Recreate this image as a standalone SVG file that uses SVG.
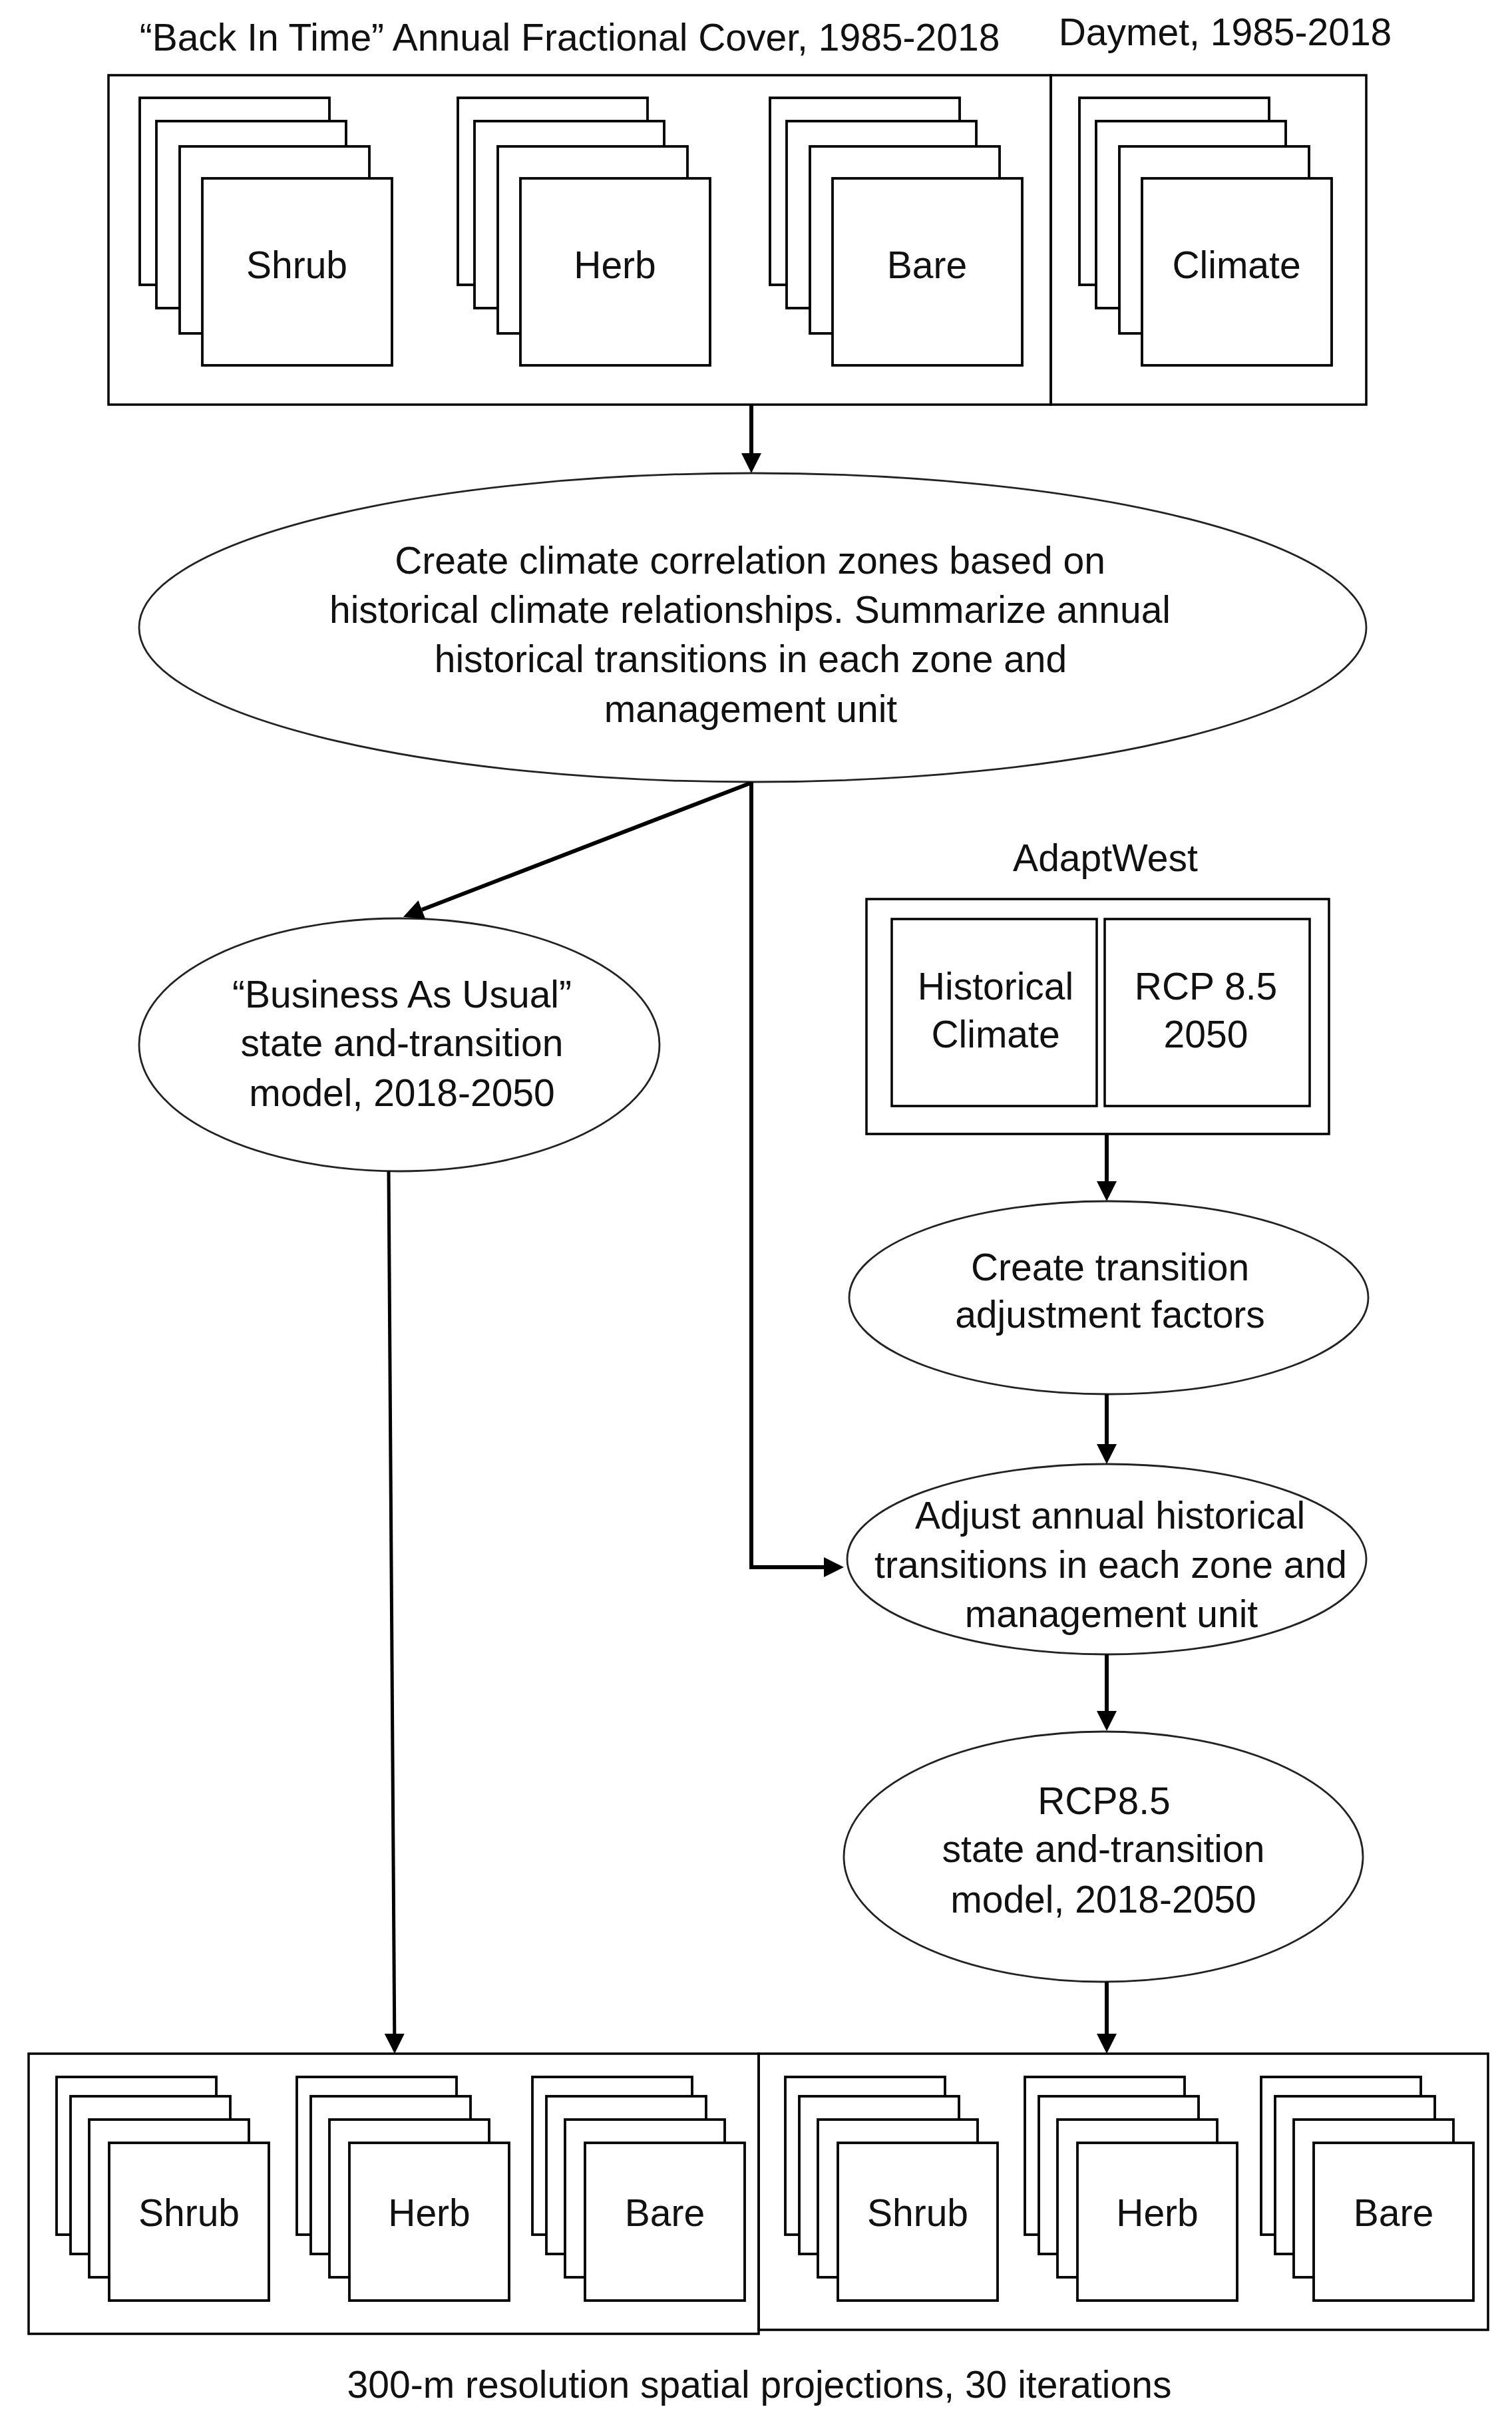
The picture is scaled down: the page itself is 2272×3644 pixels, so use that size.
<svg xmlns="http://www.w3.org/2000/svg" xmlns:xlink="http://www.w3.org/1999/xlink" width="2272" height="3644" viewBox="0 0 2272 3644">
  <style>
    text { font-family: "Liberation Sans", Arial, sans-serif; font-size: 57px; fill: #111; text-anchor: middle; }
    .box { fill: none; stroke: #000; stroke-width: 3.5; }
    .card { fill: #fff; stroke: #000; stroke-width: 3.8; }
    .ell { fill: #fff; stroke: #222; stroke-width: 2.8; }
    .conn { fill: none; stroke: #000; stroke-width: 6; }
    .thin { stroke-width: 5; }
  </style>
  <defs>
    <marker id="arrow" markerUnits="userSpaceOnUse" markerWidth="30" markerHeight="30" refX="0" refY="15" orient="auto" viewBox="0 0 30 30">
      <path d="M0,0 L30,15 L0,30 z" fill="#000"/>
    </marker>
    <g id="stackTop">
      <rect class="card" x="0" y="0" width="285" height="281"/>
      <rect class="card" x="25" y="35" width="285" height="281"/>
      <rect class="card" x="60" y="73" width="285" height="281"/>
      <rect class="card" x="94" y="121" width="285" height="281"/>
    </g>
    <g id="stackBot">
      <rect class="card" x="0" y="0" width="240" height="237"/>
      <rect class="card" x="21" y="29" width="240" height="237"/>
      <rect class="card" x="49" y="64" width="240" height="237"/>
      <rect class="card" x="79" y="99" width="240" height="237"/>
    </g>
  </defs>
  <rect width="2272" height="3644" fill="#fff"/>

  <!-- Top inputs -->
  <g id="bit-input">
    <text x="856" y="76">“Back In Time” Annual Fractional Cover, 1985-2018</text>
    <rect class="box" x="163" y="113" width="1416" height="495"/>
    <g id="bit-shrub"><use xlink:href="#stackTop" x="210" y="147"/><text x="446" y="418">Shrub</text></g>
    <g id="bit-herb"><use xlink:href="#stackTop" x="688" y="147"/><text x="924" y="418">Herb</text></g>
    <g id="bit-bare"><use xlink:href="#stackTop" x="1157" y="147"/><text x="1393" y="418">Bare</text></g>
  </g>
  <g id="daymet-input">
    <text x="1841" y="68">Daymet, 1985-2018</text>
    <rect class="box" x="1579" y="113" width="474" height="495"/>
    <g id="daymet-climate"><use xlink:href="#stackTop" x="1622" y="147"/><text x="1858" y="418">Climate</text></g>
  </g>

  <!-- Big ellipse -->
  <g id="zones">
    <ellipse class="ell" cx="1131" cy="943" rx="922" ry="232"/>
    <text x="1127" y="862">Create climate correlation zones based on</text>
    <text x="1127" y="936">historical climate relationships. Summarize annual</text>
    <text x="1128" y="1010">historical transitions in each zone and</text>
    <text x="1128" y="1085">management unit</text>
  </g>

  <!-- BAU -->
  <g id="bau">
    <ellipse class="ell" cx="600" cy="1570" rx="391" ry="190"/>
    <text x="604" y="1514">“Business As Usual”</text>
    <text x="604" y="1587">state and-transition</text>
    <text x="604" y="1662">model, 2018-2050</text>
  </g>

  <!-- AdaptWest -->
  <g id="adaptwest">
    <text x="1661" y="1309">AdaptWest</text>
    <rect class="box" x="1302" y="1351" width="695" height="353"/>
    <g id="aw-historical">
      <rect class="box" x="1340" y="1381" width="308" height="281"/>
      <text x="1496" y="1502">Historical</text>
      <text x="1496" y="1574">Climate</text>
    </g>
    <g id="aw-rcp">
      <rect class="box" x="1660" y="1381" width="308" height="281"/>
      <text x="1812" y="1502">RCP 8.5</text>
      <text x="1812" y="1574">2050</text>
    </g>
  </g>

  <g id="factors">
    <ellipse class="ell" cx="1666" cy="1950" rx="390" ry="145"/>
    <text x="1668" y="1924">Create transition</text>
    <text x="1668" y="1995">adjustment factors</text>
  </g>

  <g id="adjust">
    <ellipse class="ell" cx="1663" cy="2343" rx="390" ry="143"/>
    <text x="1668" y="2297">Adjust annual historical</text>
    <text x="1669" y="2371">transitions in each zone and</text>
    <text x="1670" y="2445">management unit</text>
  </g>

  <g id="rcp-model">
    <ellipse class="ell" cx="1658" cy="2790" rx="390" ry="188"/>
    <text x="1659" y="2726">RCP8.5</text>
    <text x="1658" y="2798">state and-transition</text>
    <text x="1658" y="2874">model, 2018-2050</text>
  </g>

  <!-- Bottom outputs -->
  <g id="out-bau">
    <rect class="box" x="43" y="3086" width="1097" height="421"/>
    <g id="out-bau-shrub"><use xlink:href="#stackBot" x="85" y="3121"/><text x="284" y="3345">Shrub</text></g>
    <g id="out-bau-herb"><use xlink:href="#stackBot" x="446" y="3121"/><text x="645" y="3345">Herb</text></g>
    <g id="out-bau-bare"><use xlink:href="#stackBot" x="800" y="3121"/><text x="999" y="3345">Bare</text></g>
  </g>
  <g id="out-rcp">
    <rect class="box" x="1140" y="3086" width="1096" height="415"/>
    <g id="out-rcp-shrub"><use xlink:href="#stackBot" x="1180" y="3121"/><text x="1379" y="3345">Shrub</text></g>
    <g id="out-rcp-herb"><use xlink:href="#stackBot" x="1540" y="3121"/><text x="1739" y="3345">Herb</text></g>
    <g id="out-rcp-bare"><use xlink:href="#stackBot" x="1895" y="3121"/><text x="2094" y="3345">Bare</text></g>
  </g>
  <g id="caption">
    <text x="1141" y="3603">300-m resolution spatial projections, 30 iterations</text>
  </g>

  <!-- Connectors -->
  <g id="connectors">
    <line class="conn" x1="1129" y1="608" x2="1129" y2="681" marker-end="url(#arrow)"/>
    <line class="conn" x1="1127" y1="1177" x2="634" y2="1367" marker-end="url(#arrow)"/>
    <polyline class="conn" points="1129,1175 1129,2355 1238,2355" marker-end="url(#arrow)"/>
    <line class="conn thin" x1="584" y1="1760" x2="592.8" y2="3056" marker-end="url(#arrow)"/>
    <line class="conn" x1="1663" y1="1704" x2="1663" y2="1775" marker-end="url(#arrow)"/>
    <line class="conn" x1="1663" y1="2095" x2="1663" y2="2170" marker-end="url(#arrow)"/>
    <line class="conn" x1="1663" y1="2486" x2="1663" y2="2571" marker-end="url(#arrow)"/>
    <line class="conn" x1="1663" y1="2978" x2="1663" y2="3056" marker-end="url(#arrow)"/>
  </g>
</svg>
